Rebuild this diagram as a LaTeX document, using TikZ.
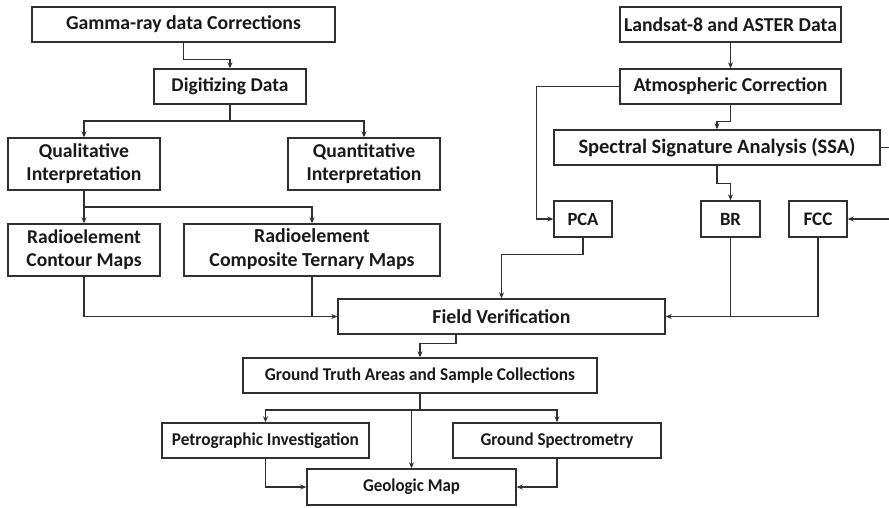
\documentclass[tikz,border=0pt]{standalone}
\usepackage{graphicx}
\usepackage{fontspec}
\setmainfont{Carlito}
\usetikzlibrary{arrows.meta,calc}
\definecolor{ln}{HTML}{303030}
\newcommand\fitw[2]{\resizebox{#1pt}{!}{#2}}
\newcommand\fitx[2]{\resizebox{#1pt}{\height}{#2}}
\newcommand\twol[2]{\begin{tabular}{@{}c@{}}#1\\#2\end{tabular}}
\begin{document}
\begin{tikzpicture}[x=1pt,y=-1pt,
  box/.style={draw=ln,line width=1.4pt,inner sep=0pt,align=center,
    font=\fontsize{19.5}{23}\selectfont\bfseries,text=black!90},
  lowbox/.style={box,font=\fontsize{18}{22}\selectfont\bfseries},
  con/.style={draw=ln,line width=1.2pt},
  arr/.style={con,-{Stealth[length=6pt,width=5pt]}}]
\useasboundingbox (0,0) rectangle (889,507);
\fill[white] (0,0) rectangle (889,507);
% left column
\node[box,minimum width=303pt,minimum height=35pt] (g) at (183.5,24.5) {\fitw{235}{Gamma-ray data Corrections}};
\node[box,minimum width=152pt,minimum height=35pt] (d) at (230,86.5) {\fitw{117}{Digitizing Data}};
\node[box,minimum width=152pt,minimum height=52pt] (ql) at (84,164) {\fitw{115}{\twol{Qualitative}{Interpretation}}};
\node[box,minimum width=152pt,minimum height=52pt] (qn) at (364,164) {\fitw{115}{\twol{Quantitative}{Interpretation}}};
\node[box,minimum width=152pt,minimum height=52pt] (ct) at (84,250) {\fitw{115}{\twol{Radioelement}{Contour Maps}}};
\node[box,minimum width=256pt,minimum height=52pt] (cp) at (312,250) {\fitw{205}{\twol{Radioelement}{Composite Ternary Maps}}};
\node[box,minimum width=327pt,minimum height=35pt] (fv) at (501.5,316.5) {\fitw{138}{Field Verification}};
% right column
\node[box,minimum width=221pt,minimum height=35pt] (ls) at (730.5,24.5) {\fitw{213}{Landsat-8 and ASTER Data}};
\node[box,minimum width=221pt,minimum height=35pt] (atm) at (730.5,86.5) {\fitw{194}{Atmospheric Correction}};
\node[box,minimum width=326pt,minimum height=35pt] (ssa) at (717,147.5) {\fitw{277}{Spectral Signature Analysis (SSA)}};
\node[box,minimum width=58pt,minimum height=36pt] (pca) at (583,219) {\fitw{31}{PCA}};
\node[box,minimum width=59pt,minimum height=36pt] (br) at (730.5,219) {\fitw{21}{BR}};
\node[box,minimum width=58pt,minimum height=36pt] (fcc) at (818,219) {\fitw{29}{FCC}};
% bottom
\node[lowbox,minimum width=354pt,minimum height=35pt] (gt) at (420,375.5) {\fitx{310}{Ground Truth Areas and Sample Collections}};
\node[lowbox,minimum width=207pt,minimum height=35pt] (pe) at (265.5,440.5) {\fitx{187}{Petrographic Investigation}};
\node[lowbox,minimum width=208pt,minimum height=35pt] (gs) at (557,440.5) {\fitx{153}{Ground Spectrometry}};
\node[lowbox,minimum width=209pt,minimum height=36pt] (geo) at (411.5,487) {\fitx{97}{Geologic Map}};
% free ends
\coordinate (ssaR) at (889,147.5);
\coordinate (fccR) at (889,219);
\coordinate (dj) at (230,121);
\coordinate (qj) at (84,207);
\coordinate (gj) at (420,410);
% connectors
\draw[arr] (g.south) -- ++(0,17) -| (d.north);
\draw[con] (d.south) -- (dj);
\draw[arr] (dj) -| (ql.north);
\draw[arr] (dj) -| (qn.north);
\draw[con] (ql.south) -- (qj);
\draw[arr] (qj) -| (ct.north);
\draw[arr] (qj) -| (cp.north);
\draw[arr] (ct.south) |- (fv.west);
\draw[con] (cp.south) -- (cp.south |- fv.west);
\draw[arr] (ls.south) -- (atm.north);
\draw[arr] (atm.south) -- ++(0,17) -| (ssa.north);
\draw[arr] (atm.west) -| ($(pca.west)+(-17,0)$) -- (pca.west);
\draw[arr] (ssa.south) -- ++(0,18) -| (br.north);
\draw[con] (ssa.east) -- (ssaR);
\draw[arr] (fccR) -- (fcc.east);
\draw[arr] (pca.south) -- ++(0,17) -| (fv.north);
\draw[con] (br.south) -- (br.south |- fv.east);
\draw[arr] (fcc.south) |- (fv.east);
\draw[arr] ([xshift=-45.5pt]fv.south) -- ++(0,9) -| (gt.north);
\draw[con] (gt.south) -- (gj);
\draw[arr] (gj) -| (pe.north);
\draw[arr] (gj) -| (gs.north);
\draw[arr] (gj -| geo.north) -- (geo.north);
\draw[arr] (pe.south) |- (geo.west);
\draw[arr] (gs.south) |- (geo.east);
\end{tikzpicture}
\end{document}
